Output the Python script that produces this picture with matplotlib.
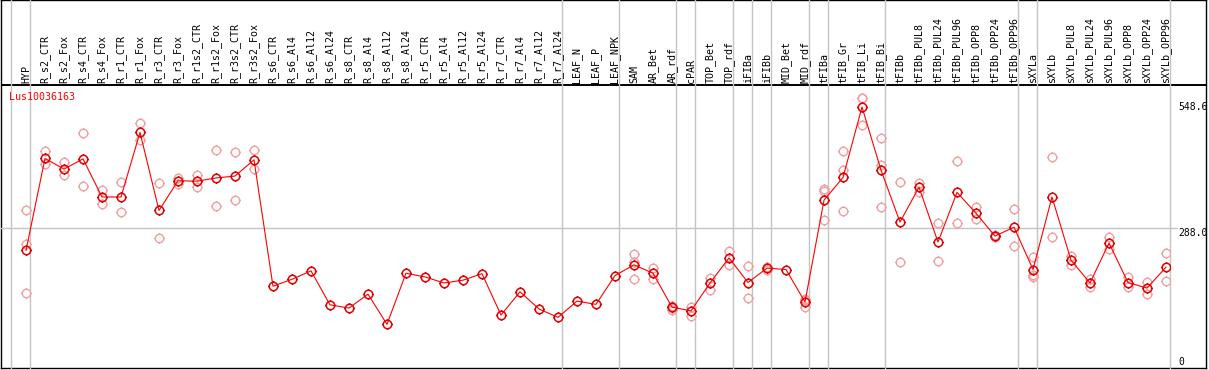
import numpy as np
import matplotlib.pyplot as plt
from matplotlib.path import Path
from matplotlib.transforms import blended_transform_factory

title = "Lus10036163"

labels = ["HYP",
          "R_s2_CTR", "R_s2_Fox", "R_s4_CTR", "R_s4_Fox", "R_r1_CTR", "R_r1_Fox",
          "R_r3_CTR", "R_r3_Fox", "R_r1s2_CTR", "R_r1s2_Fox", "R_r3s2_CTR", "R_r3s2_Fox",
          "R_s6_CTR", "R_s6_Al4", "R_s6_Al12", "R_s6_Al24",
          "R_s8_CTR", "R_s8_Al4", "R_s8_Al12", "R_s8_Al24",
          "R_r5_CTR", "R_r5_Al4", "R_r5_Al12", "R_r5_Al24",
          "R_r7_CTR", "R_r7_Al4", "R_r7_Al12", "R_r7_Al24",
          "LEAF_N", "LEAF_P", "LEAF_NPK", "SAM", "AR_Bet", "AR_rdf", "cPAR",
          "TOP_Bet", "TOP_rdf", "iFIBa", "iFIBb", "MID_Bet", "MID_rdf",
          "tFIBa", "tFIB_Gr", "tFIB_Li", "tFIB_Bi", "tFIBb",
          "tFIBb_PUL8", "tFIBb_PUL24", "tFIBb_PUL96", "tFIBb_OPP8", "tFIBb_OPP24", "tFIBb_OPP96",
          "sXYLa", "sXYLb",
          "sXYLb_PUL8", "sXYLb_PUL24", "sXYLb_PUL96", "sXYLb_OPP8", "sXYLb_OPP24", "sXYLb_OPP96"]

means = [240, 438, 415, 437, 355, 355, 494, 326, 390, 389, 396, 400, 435,
         163, 178, 196, 123, 116, 146, 81, 191, 183, 170, 176, 190,
         101, 151, 114, 96, 131, 124, 186, 209, 191, 118, 110,
         170, 224, 171, 202, 199, 129, 348, 397, 548.6, 413, 301,
         376, 258, 365, 320, 271, 290, 199, 355,
         219, 170, 256, 171, 159, 204]

nan = np.nan
rep_a = [327, 454, 430, 493, 369, 387, 514, 385, 395, 402, 456, 452, 456,
         nan, nan, nan, nan, nan, nan, nan, nan, nan, nan, nan, nan,
         nan, nan, nan, nan, nan, nan, nan, 232, 203, 120, 119,
         181, 239, 206, 205, nan, 135, 372, 455, 567, 481, 387,
         386, 300, 432, 334, 274, 329, 226, 441,
         227, 178, 270, 183, 172, 235]
rep_b = [253, 426, 402, 379, 341, 323, 478, 266, 384, 376, 336, 349, 415,
         nan, nan, nan, nan, nan, nan, nan, nan, nan, nan, nan, nan,
         nan, nan, nan, nan, nan, nan, nan, 178, 179, 111, 99,
         155, 209, 137, 198, nan, 119, 368, 413, 510, 424, 215,
         366, 217, 300, 308, 268, 249, 187, 269,
         209, 162, 243, 161, 146, 174]
rep_c = [148, nan, nan, nan, nan, nan, nan, nan, nan, nan, nan, nan, nan,
         nan, nan, nan, nan, nan, nan, nan, nan, nan, nan, nan, nan,
         nan, nan, nan, nan, nan, nan, nan, 216, nan, 117, nan,
         nan, nan, nan, nan, nan, 133, 305, 325, 569, 334, nan,
         nan, nan, nan, nan, nan, nan, 182, nan,
         nan, nan, nan, nan, nan, nan]

# last column of each group (separator lines drawn after them)
group_ends = [-1, 0, 28, 31, 34, 35, 37, 38, 39, 41, 42, 45, 52, 53, 60]
ref_line = 288.0
tick_vals = [548.6, 288.0, 0]
tick_txt = ["548.6", "288.0", "0"]
tick_va = ["center", "top", "center"]

W, H = 1209, 370
fig = plt.figure(figsize=(W / 100, H / 100), dpi=100)


def fx(px):
    return px / W


def fy(py):
    return 1 - py / H


mono = "DejaVu Sans Mono"

# outer frame + header rule
frame = fig.add_axes([fx(1), fy(368), fx(1206) - fx(1), fy(0) - fy(368)])
frame.set_xlim(0, 1)
frame.set_ylim(0, 1)
frame.set_xticks([])
frame.set_yticks([])
for s in frame.spines.values():
    s.set_linewidth(1.0)
frame.axhline((368 - 85) / 368, color="black", lw=1.4)

ax = fig.add_axes([fx(1), fy(368), fx(1170) - fx(1), fy(85) - fy(368)])
ax.patch.set_alpha(0)
xmin = -25 / 19
ax.set_xlim(xmin, xmin + 1169 / 19)
ax.set_ylim((362 - 368) / 0.4648, (362 - 85) / 0.4648)
ax.set_xticks([])
ax.set_yticks([])
for s in ax.spines.values():
    s.set_visible(False)

x = np.arange(len(labels))

for g in group_ends:
    ax.axvline(g + 0.23, ymin=0, ymax=368 / (368 - 85), color="#c4c4c4",
               lw=1.0, clip_on=False, zorder=0)
ax.axhline(ref_line, xmin=0, xmax=1176 / 1169, color="#c4c4c4", lw=1.0,
           clip_on=False, zorder=0)

# circle with little ticks
circ = Path.unit_circle()
t = 1.22
ticks = Path([(0, 1), (0, t), (0, -1), (0, -t), (1, 0), (t, 0), (-1, 0), (-t, 0)],
             [Path.MOVETO, Path.LINETO] * 4)
sun = Path.make_compound_path(circ, ticks)

for rep in (rep_a, rep_b, rep_c):
    ax.plot(x, rep, ls="none", marker=sun, mfc="none", mec="#f0a0a0",
            ms=7.4, mew=1.0, zorder=2)

ax.plot(x, means, color="red", lw=0.8, marker=sun, mfc="none", mec="#e00000",
        ms=7.4, mew=1.1, zorder=3)

trans = blended_transform_factory(ax.transData, fig.transFigure)
for i, lab in enumerate(labels):
    ax.text(i, fy(83), lab, rotation=90, ha="center", va="bottom",
            transform=trans, fontfamily=mono, fontsize=7.2, color="black")

trans_r = blended_transform_factory(fig.transFigure, ax.transData)
for v, s, va in zip(tick_vals, tick_txt, tick_va):
    ax.text(fx(1178), v, s, ha="left", va=va, transform=trans_r,
            fontfamily=mono, fontsize=7.0, color="black")

fig.text(fx(9), fy(92), title, ha="left", va="top", fontfamily=mono,
         fontsize=7.2, color="red")

fig.savefig("out.png", dpi=100)
